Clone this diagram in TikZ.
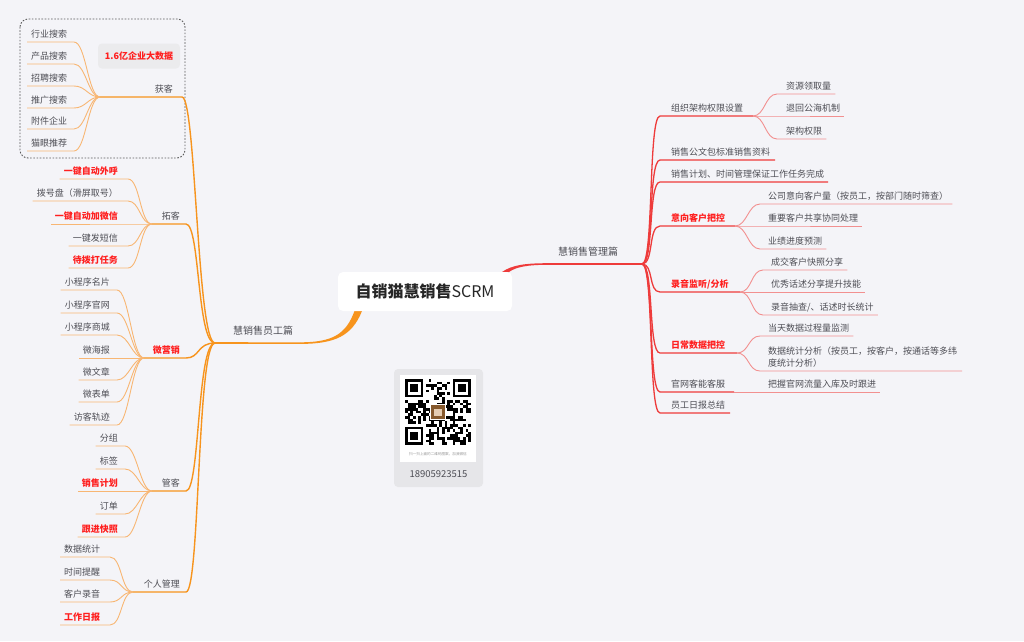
\documentclass[tikz,border=0pt]{standalone}
\usepackage{fontspec}
\setmainfont{Noto Sans CJK SC}
\usetikzlibrary{calc}
\definecolor{bg}{HTML}{F4F4F8}
\definecolor{txtgray}{HTML}{4E4E55}
\definecolor{redtxt}{HTML}{FF1F1F}
\definecolor{orangeMain}{HTML}{F7941D}
\definecolor{orangeLight}{HTML}{F8B673}
\definecolor{redMain}{HTML}{EE3B3B}
\definecolor{redLight}{HTML}{F29090}
\definecolor{qrbox}{HTML}{E6E6E9}
\definecolor{taggray}{HTML}{EBEBED}
\definecolor{dashgray}{HTML}{5A5A5A}

% left child: name, style, text, anchor side, text x, underline y, curve end x, junction, line style
\newcommand\LChild[9]{%
  \node[#2, anchor=base #4] (#1) at (#5,#6-5) {#3};
  \coordinate (#1-r) at (#7,#6);
  \path (#1.west |- #1-r) ++(-4,0) coordinate (#1-l);
  \draw[#9] (#8) .. controls +(-12,0) and +(12,0) .. (#1-r) -- (#1-l);
}
% left branch: name, style, text, text right x, underline y, curve end x, junction x
\newcommand\LBranch[7]{%
  \node[#2, anchor=base east] (#1) at (#4,#5-5) {#3};
  \coordinate (#1-r) at (#6,#5);
  \coordinate (#1-j) at (#7,#5);
  \draw[trunkO] (J) .. controls +(-18,0) and +(14,0) .. (#1-r) -- (#1-j);
}
% right branch: name, style, text, text left x, underline y, underline end x
\newcommand\RBranch[6]{%
  \node[#2, anchor=base west] (#1) at (#4,#5-5) {#3};
  \coordinate (#1-l) at (660,#5);
  \coordinate (#1-j) at (#6,#5);
  \draw[trunkR] (JR) .. controls +(12,0) and +(-12,0) .. (#1-l) -- (#1-j);
}
% right child: name, style, text, text left x, underline y, curve end x, junction, line style
\newcommand\RChild[8]{%
  \node[#2, anchor=base west] (#1) at (#4,#5-5) {#3};
  \coordinate (#1-l) at (#6,#5);
  \path (#1.east |- #1-l) ++(4,0) coordinate (#1-r);
  \draw[#8] (#7) .. controls +(12,0) and +(-12,0) .. (#1-l) -- (#1-r);
}
\newcommand\qrfinder[2]{%
  \fill[white] (#1*2.64-2.64,#2*2.64-2.64) rectangle ++(9*2.64,9*2.64);
  \fill[black] (#1*2.64,#2*2.64) rectangle ++(7*2.64,7*2.64);
  \fill[white] (#1*2.64+2.64,#2*2.64+2.64) rectangle ++(5*2.64,5*2.64);
  \fill[black] (#1*2.64+2*2.64,#2*2.64+2*2.64) rectangle ++(3*2.64,3*2.64);
}

\begin{document}
\begin{tikzpicture}[x=1pt,y=-1pt,
  txt/.style={font=\fontsize{9}{11}\selectfont, text=txtgray, inner sep=0pt},
  rtxt/.style={font=\fontsize{9}{11}\selectfont\bfseries, text=redtxt, inner sep=0pt},
  bigtxt/.style={font=\fontsize{10}{12}\selectfont, text=txtgray, inner sep=0pt},
  trunkO/.style={draw=orangeMain, line width=1.4pt},
  subO/.style={draw=orangeLight, line width=0.9pt},
  trunkR/.style={draw=redMain, line width=1.3pt},
  subR/.style={draw=redLight, line width=0.9pt}]
\useasboundingbox (0,0) rectangle (1024,641);
\fill[bg] (0,0) rectangle (1024,641);

\coordinate (J) at (215,343);
\coordinate (JR) at (642,264);

% ---------- left: 慧销售员工篇 ----------
\draw[dashgray, line width=0.9pt, dash pattern=on 1.6pt off 1.6pt, rounded corners=8pt] (20,19) rectangle (185,158);
\node[fill=taggray, rounded corners=4pt, minimum width=82pt, minimum height=25pt, inner sep=0pt,
  font=\fontsize{9}{11}\selectfont\bfseries, text=redtxt] (tag) at (139,56) {1.6亿企业大数据};

\node[bigtxt, anchor=base west] (emp) at (233,334) {慧销售员工篇};
\fill[orangeMain] (362,311) .. controls (352,336) and (335,343.9) .. (300,343.9)
   -- (300,342.3) .. controls (333,342.3) and (346,334) .. (354.5,311) -- cycle;
\draw[trunkO, line width=1.6pt] (300,343.1) -- (J);

\LBranch{huoke}{txt}{获客}{173}{97}{182}{100}
\LBranch{tuoke}{txt}{拓客}{180}{224}{186}{152}
\LBranch{wyx}{rtxt}{微营销}{180}{358}{186}{144}
\LBranch{guanke}{txt}{管客}{180}{491}{186}{152}
\LBranch{grgl}{txt}{个人管理}{180}{592}{186}{133}

\LChild{h1}{txt}{行业搜索}{west}{31}{42}{74}{huoke-j}{subO}
\LChild{h2}{txt}{产品搜索}{west}{31}{64}{74}{huoke-j}{subO}
\LChild{h3}{txt}{招聘搜索}{west}{31}{86}{74}{huoke-j}{subO}
\LChild{h4}{txt}{推广搜索}{west}{31}{108}{74}{huoke-j}{subO}
\LChild{h5}{txt}{附件企业}{west}{31}{129}{74}{huoke-j}{subO}
\LChild{h6}{txt}{猫眼推荐}{west}{31}{151}{74}{huoke-j}{subO}

\LChild{t1}{rtxt}{一键自动外呼}{east}{118}{179}{128}{tuoke-j}{subO}
\LChild{t2}{txt}{拨号盘（滑屏取号）}{east}{118}{201}{128}{tuoke-j}{subO}
\LChild{t3}{rtxt}{一键自动加微信}{east}{118}{224}{128}{tuoke-j}{subO}
\LChild{t4}{txt}{一键发短信}{east}{118}{246}{128}{tuoke-j}{subO}
\LChild{t5}{rtxt}{待拨打任务}{east}{118}{268}{128}{tuoke-j}{subO}

\LChild{w1}{txt}{小程序名片}{east}{110}{290}{117}{wyx-j}{subO}
\LChild{w2}{txt}{小程序官网}{east}{110}{313}{117}{wyx-j}{subO}
\LChild{w3}{txt}{小程序商城}{east}{110}{335}{117}{wyx-j}{subO}
\LChild{w4}{txt}{微海报}{east}{110}{358}{117}{wyx-j}{subO}
\LChild{w5}{txt}{微文章}{east}{110}{380}{117}{wyx-j}{subO}
\LChild{w6}{txt}{微表单}{east}{110}{402}{117}{wyx-j}{subO}
\LChild{w7}{txt}{访客轨迹}{east}{110}{425}{117}{wyx-j}{subO}

\LChild{g1}{txt}{分组}{east}{118}{446}{125}{guanke-j}{subO}
\LChild{g2}{txt}{标签}{east}{118}{469}{125}{guanke-j}{subO}
\LChild{g3}{rtxt}{销售计划}{east}{118}{491}{125}{guanke-j}{subO}
\LChild{g4}{txt}{订单}{east}{118}{514}{125}{guanke-j}{subO}
\LChild{g5}{rtxt}{跟进快照}{east}{118}{537}{125}{guanke-j}{subO}

\LChild{p1}{txt}{数据统计}{west}{64}{557}{110}{grgl-j}{subO}
\LChild{p2}{txt}{时间提醒}{west}{64}{580}{110}{grgl-j}{subO}
\LChild{p3}{txt}{客户录音}{west}{64}{602}{110}{grgl-j}{subO}
\LChild{p4}{rtxt}{工作日报}{west}{64}{625}{110}{grgl-j}{subO}

% ---------- right: 慧销售管理篇 ----------
\node[bigtxt, anchor=base west] (mgr) at (558,255) {慧销售管理篇};
\fill[redMain] (502,272) .. controls (512,265) and (525,263.2) .. (548,263.2)
   -- (548,264.8) .. controls (527,264.8) and (516,267) .. (509,272) -- cycle;
\draw[trunkR, line width=1.5pt] (548,264) -- (JR);

\RBranch{r1}{txt}{组织架构权限设置}{671}{116}{753}
\RBranch{r2}{txt}{销售公文包标准销售资料}{671}{160}{775}
\RBranch{r3}{txt}{销售计划、时间管理保证工作任务完成}{671}{182}{828}
\RBranch{r4}{rtxt}{意向客户把控}{671}{226}{735}
\RBranch{r5}{rtxt}{录音监听/分析}{671}{292}{740}
\RBranch{r6}{rtxt}{日常数据把控}{671}{353}{737}
\RBranch{r7}{txt}{官网客能客服}{671}{392}{734}
\RBranch{r8}{txt}{员工日报总结}{671}{413}{730}

\RChild{o1}{txt}{资源领取量}{786}{94}{777}{r1-j}{subR}
\RChild{o2}{txt}{退回公海机制}{786}{116}{777}{r1-j}{subR}
\RChild{o3}{txt}{架构权限}{786}{139}{777}{r1-j}{subR}

\RChild{y1}{txt}{公司意向客户量（按员工，按部门随时筛查）}{768}{204}{760}{r4-j}{subR}
\RChild{y2}{txt}{重要客户共享协同处理}{768}{226}{760}{r4-j}{subR}
\RChild{y3}{txt}{业绩进度预测}{768}{249}{760}{r4-j}{subR}

\RChild{l1}{txt}{成交客户快照分享}{771}{270}{763}{r5-j}{subR}
\RChild{l2}{txt}{优秀话述分享提升技能}{771}{292}{763}{r5-j}{subR}
\RChild{l3}{txt}{录音抽查/、话述时长统计}{771}{315}{763}{r5-j}{subR}

\RChild{d1}{txt}{当天数据过程量监测}{768}{336}{760}{r6-j}{subR}
\node[font=\fontsize{9}{12}\selectfont, text=txtgray, inner sep=0pt, align=left, anchor=south west] (d2)
  at (768,367.5) {数据统计分析（按员工，按客户，按通话等多纬\\度统计分析）};
\coordinate (d2-l) at (760,371);
\coordinate (d2-r) at (962,371);
\draw[subR] (r6-j) .. controls +(12,0) and +(-12,0) .. (d2-l) -- (d2-r);

\RChild{k1}{txt}{把握官网流量入库及时跟进}{768}{392}{760}{r7-j}{subR}

% ---------- center ----------
\node[fill=white, rounded corners=5pt, minimum width=174pt, minimum height=39pt, inner sep=0pt,
  font=\fontsize{16}{18}\selectfont, text=black!85] (root) at (425,291.5) {\textbf{自销猫慧销售}SCRM};

% ---------- QR card ----------
\fill[qrbox, rounded corners=4pt] (394,369) rectangle (483,487);
\fill[white] (400,375) rectangle (476,462);
\begin{scope}[shift={(405,379)}]
  \pgfmathsetseed{11}
  \foreach \i in {0,...,24}{\foreach \j in {0,...,24}{%
    \pgfmathsetmacro\qrr{rnd}%
    \ifdim\qrr pt<0.47pt
      \fill[black] (\i*2.64,\j*2.64) rectangle ++(2.64,2.64);
    \fi
  }}
  \fill[white] (-1,-1) rectangle (8*2.64,8*2.64);
  \fill[white] (17*2.64,-1) rectangle (25*2.64+1,8*2.64);
  \fill[white] (-1,17*2.64) rectangle (8*2.64,25*2.64+1);
  \fill[black] (0,0) rectangle ++(7*2.64,7*2.64);
  \fill[white] (2.64,2.64) rectangle ++(5*2.64,5*2.64);
  \fill[black] (2*2.64,2*2.64) rectangle ++(3*2.64,3*2.64);
  \fill[black] (18*2.64,0) rectangle ++(7*2.64,7*2.64);
  \fill[white] (19*2.64,2.64) rectangle ++(5*2.64,5*2.64);
  \fill[black] (20*2.64,2*2.64) rectangle ++(3*2.64,3*2.64);
  \fill[black] (0,18*2.64) rectangle ++(7*2.64,7*2.64);
  \fill[white] (2.64,19*2.64) rectangle ++(5*2.64,5*2.64);
  \fill[black] (2*2.64,20*2.64) rectangle ++(3*2.64,3*2.64);
  \fill[white] (9.5*2.64,9.5*2.64) rectangle ++(6*2.64,6*2.64);
  \fill[brown!70!black] (10*2.64,10*2.64) rectangle ++(5*2.64,5*2.64);
  \fill[brown!40!white] (11*2.64,11.5*2.64) rectangle ++(3*2.64,2.5*2.64);
\end{scope}
\node[font=\fontsize{3.6}{4}\selectfont, text=black!40, inner sep=0pt] (qrcap) at (438,454) {扫一扫上面的二维码图案，加我微信};
\node[font=\fontsize{9.5}{11}\selectfont, text=txtgray, inner sep=0pt] (phone) at (438.5,474) {18905923515};
\end{tikzpicture}
\end{document}
